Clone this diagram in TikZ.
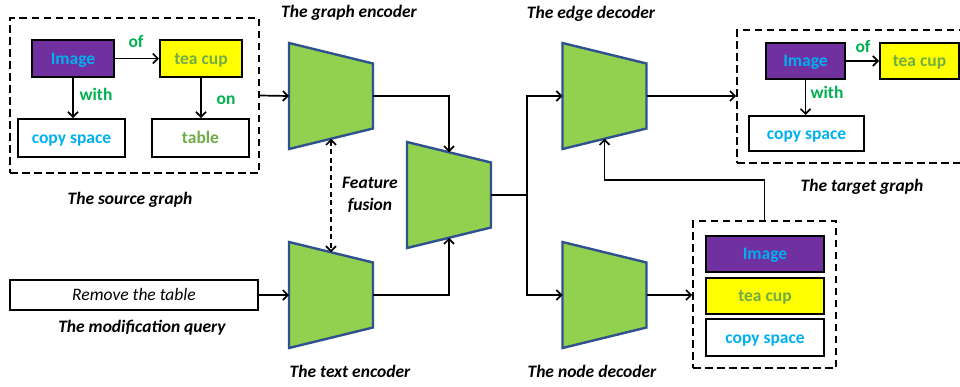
\documentclass[tikz,border=0pt]{standalone}
\usepackage{fontspec}
\setmainfont{Carlito}
\usetikzlibrary{arrows.meta,calc}

\definecolor{imgpurple}{HTML}{7030A0}
\definecolor{imgtext}{HTML}{00B0F0}
\definecolor{cupyellow}{HTML}{FFFF00}
\definecolor{cuptext}{HTML}{70AD47}
\definecolor{relgreen}{HTML}{00B050}
\definecolor{encgreen}{HTML}{92D050}
\definecolor{encblue}{HTML}{2F528F}

% a trapezoid block (wide on the left, narrow on the right) with a named
% invisible node whose north/south anchors sit on the slanted edges
\newcommand\encblock[3]{%
  \filldraw[encoder] (#2-42,#3-53) -- (#2+42,#3-32.5) -- (#2+42,#3+32.5) -- (#2-42,#3+53) -- cycle;
  \node[trapbox] (#1) at (#2,#3) {};}

\begin{document}
\begin{tikzpicture}[x=1pt,y=-1pt,
  font=\fontsize{17.5}{21}\selectfont,
  box/.style={draw=black, line width=2pt, inner sep=0pt,
    text height=11pt, text depth=0pt,
    font=\fontsize{17.5}{21}\selectfont\bfseries},
  imgbox/.style={box, fill=imgpurple, text=imgtext},
  cupbox/.style={box, fill=cupyellow, text=cuptext},
  plainbox/.style={box, fill=white},
  grp/.style={draw=black, line width=1.7pt, dash pattern=on 7.5pt off 4.5pt,
    inner sep=0pt},
  title/.style={anchor=base, font=\fontsize{17.5}{21}\selectfont\bfseries\itshape},
  rel/.style={anchor=base, text=relgreen, font=\fontsize{17.5}{21}\selectfont\bfseries},
  encoder/.style={fill=encgreen, draw=encblue, line width=2.4pt, line join=miter},
  trapbox/.style={minimum width=84pt, minimum height=85.5pt, inner sep=0pt, outer sep=0pt},
  plain/.style={line width=1.7pt},
  conn/.style={plain, -{Straight Barb[length=5pt,width=10pt]}},
  fuse/.style={line width=1.7pt, dash pattern=on 5pt off 3.5pt,
    {Straight Barb[length=5pt,width=10pt]}-{Straight Barb[length=5pt,width=10pt]}}
]
\useasboundingbox (0,0) rectangle (960,386);
\clip (0,0) rectangle (960,386);

% ---------- source graph ----------
\node[grp, minimum width=249pt, minimum height=155pt] (src) at (134.5,95.5) {};
\node[imgbox, minimum width=82pt, minimum height=37pt] (s-img) at (73,58.5) {Image};
\node[cupbox, minimum width=82pt, minimum height=37pt] (s-cup) at (201,58.5) {tea cup};
\node[plainbox, text=imgtext, minimum width=107pt, minimum height=38pt] (s-cs) at (71.5,138) {copy space};
\node[plainbox, text=cuptext, minimum width=97pt, minimum height=38pt] (s-tab) at (200.5,138) {table};
\draw[conn] (s-img.east) -- (s-cup.west);
\draw[conn] (s-img.south) -- (s-img.south |- s-cs.north);
\draw[conn] (s-cup.south) -- (s-cup.south |- s-tab.north);
\node[rel] (s-of) at (136,47) {of};
\node[rel] (s-with) at (96,100) {with};
\node[rel] (s-on) at (226,104) {on};
\node[title] (t-src) at (130,204) {The source graph};

% ---------- modification query ----------
\node[draw=black, line width=2pt, inner sep=0pt, minimum width=248pt, minimum height=30pt,
  text height=11pt, text depth=0pt, font=\fontsize{17.5}{21}\selectfont\itshape]
  (query) at (134,295) {Remove the table};
\node[title] (t-query) at (142,332) {The modification query};

% ---------- encoders, fusion, decoders ----------
\encblock{ge}{331}{96}
\encblock{te}{331}{295}
\encblock{fus}{449}{195}
\encblock{ed}{604.5}{96}
\encblock{nd}{604.5}{295}

\node[title] (t-ge) at (349,17) {The graph encoder};
\node[title] (t-te) at (350,377) {The text encoder};
\node[title] (t-ed) at (591,18) {The edge decoder};
\node[title] (t-nd) at (592,377) {The node decoder};
\node[align=center, font=\fontsize{17.5}{22}\selectfont\bfseries\itshape] (t-fus) at (370,194.5) {Feature\\fusion};

\draw[conn] (src.east) -- (ge.west);
\draw[conn] (query.east) -- (te.west);
\draw[conn] (ge.east) -| (fus.north);
\draw[conn] (te.east) -| (fus.south);
\draw[fuse] (ge.south) -- (te.north);

\coordinate (split) at (527,195);
\draw[plain] (fus.east) -- (split);
\draw[conn] (split) |- (ed.west);
\draw[conn] (split) |- (nd.west);

% ---------- target graph ----------
\node[grp, minimum width=240pt, minimum height=133pt] (tgt) at (857,96.5) {};
\node[imgbox, minimum width=79pt, minimum height=36pt] (t-img) at (805.5,61) {Image};
\node[cupbox, minimum width=79pt, minimum height=36pt] (t-cup) at (919.5,61) {tea cup};
\node[plainbox, text=imgtext, minimum width=115pt, minimum height=35pt] (t-cs) at (806.5,133.5) {copy space};
\draw[conn] (t-img.east) -- (t-cup.west);
\draw[conn] (t-img.south) -- (t-img.south |- t-cs.north);
\node[rel] (t-of) at (863,52) {of};
\node[rel] (t-with) at (827,98) {with};
\node[title] (t-tgt) at (862,191) {The target graph};
\draw[conn] (ed.east) -- (ed.east -| tgt.west);

% ---------- predicted node list ----------
\node[grp, minimum width=143pt, minimum height=147pt] (nlist) at (764.5,294.5) {};
\node[imgbox, minimum width=118pt, minimum height=36pt] (n-img) at (765,254) {Image};
\node[cupbox, minimum width=118pt, minimum height=36pt] (n-cup) at (765,296) {tea cup};
\node[plainbox, text=imgtext, minimum width=118pt, minimum height=37pt] (n-cs) at (765,337.5) {copy space};
\draw[conn] (nd.east) -- (nd.east -| nlist.west);

\coordinate (fb) at (764.5,180);
\draw[conn] (nlist.north) -- (nlist.north |- fb) -| (ed.south);
\end{tikzpicture}
\end{document}
